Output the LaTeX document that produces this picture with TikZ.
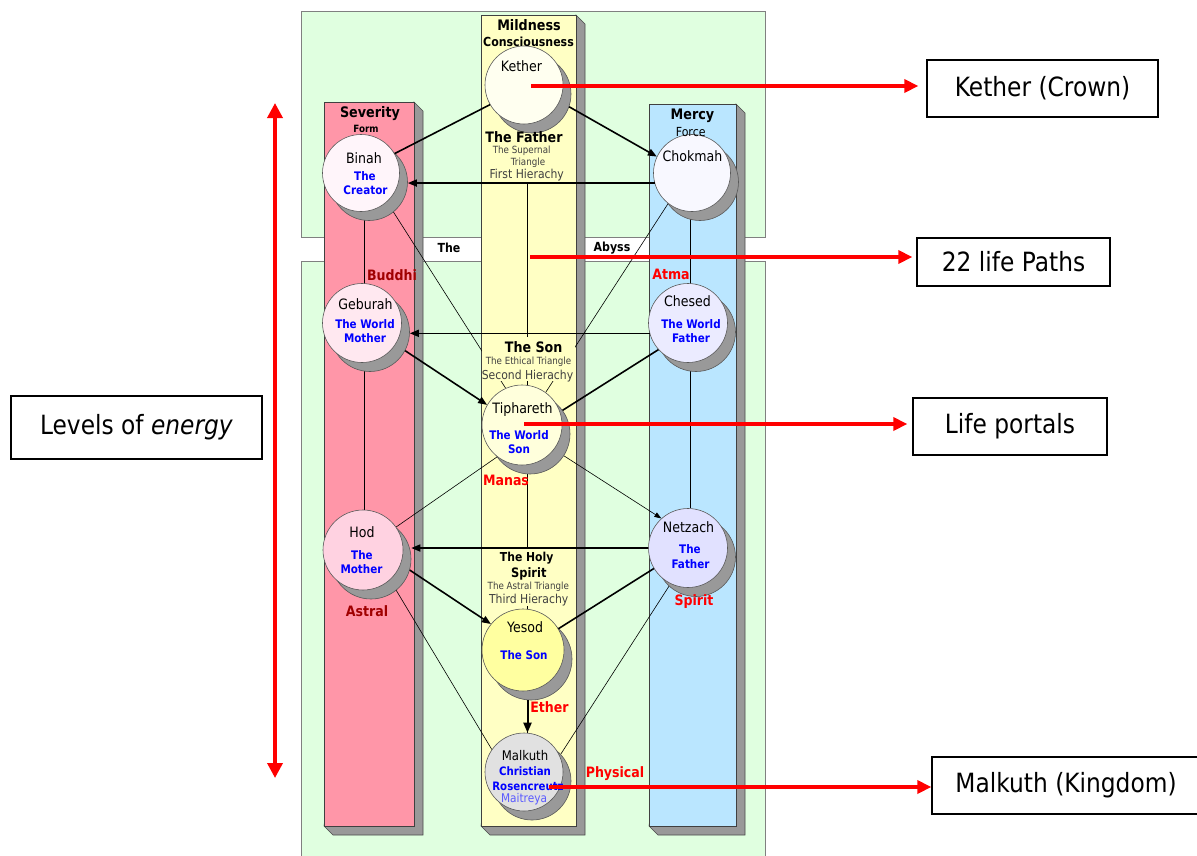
\documentclass[tikz,border=0pt]{standalone}
\usepackage{fontspec}
\setmainfont{DejaVu Sans}[FakeStretch=0.88]
\usetikzlibrary{arrows.meta}
\definecolor{panelG}{RGB}{224,255,224}
\definecolor{pillarR}{RGB}{255,150,168}
\definecolor{pillarY}{RGB}{255,255,196}
\definecolor{pillarB}{RGB}{186,230,255}
\definecolor{shd}{RGB}{153,153,153}
\definecolor{blueT}{RGB}{0,0,255}
\definecolor{blueL}{RGB}{90,90,255}
\definecolor{darkR}{RGB}{160,0,0}
\definecolor{redT}{RGB}{255,0,0}
\definecolor{grayT}{RGB}{64,64,64}
\definecolor{cKether}{RGB}{255,255,240}
\definecolor{cBinah}{RGB}{255,245,250}
\definecolor{cChok}{RGB}{248,248,255}
\definecolor{cGeb}{RGB}{255,232,240}
\definecolor{cChes}{RGB}{235,235,255}
\definecolor{cTiph}{RGB}{255,255,220}
\definecolor{cHod}{RGB}{255,210,225}
\definecolor{cNetz}{RGB}{225,225,255}
\definecolor{cYes}{RGB}{255,255,160}
\definecolor{cMalk}{RGB}{225,225,225}
\newcommand\fsz[1]{\fontsize{#1}{#1}\selectfont}
\newcommand\pillarbox[5]{%
  \filldraw[fill=shd, draw=black!70, line width=0.6pt] (#3,#2) -- (#3+9,#2+9) -- (#3+9,#4+9) -- (#1+9,#4+9) -- (#1,#4) -- cycle;
  \filldraw[fill=#5, draw=black!75, line width=0.8pt] (#1,#2) rectangle (#3,#4);}
\newcommand\mysphere[5]{%
  \node[sphs, minimum size=#4pt] (#1S) at (#2+8,#3+9) {};
  \node[sph, minimum size=#4pt, fill=#5] (#1) at (#2,#3) {};}
\pgfdeclarelayer{back}
\pgfdeclarelayer{lines}
\pgfsetlayers{back,lines,main}
\begin{document}
\begin{tikzpicture}[x=1pt,y=-1pt,
  sph/.style={circle, draw=black!65, line width=0.6pt, inner sep=0pt},
  sphs/.style={sph, fill=shd},
  nm/.style={inner sep=0pt, font=\fsz{14.3}},
  bt/.style={inner sep=0pt, font=\bfseries\fsz{11.8}, text=blueT},
  ttl/.style={inner sep=0pt, font=\bfseries\fsz{14.5}},
  subt/.style={inner sep=0pt, font=\bfseries\fsz{12.5}},
  hd/.style={inner sep=0pt, font=\bfseries\fsz{14.4}},
  sm/.style={inner sep=0pt, font=\fsz{9.9}, text=grayT},
  hier/.style={inner sep=0pt, font=\fsz{12.3}, text=grayT},
  lbl/.style={inner sep=0pt, font=\bfseries\fsz{14.3}, text=redT},
  lbld/.style={lbl, text=darkR},
  abyss/.style={inner sep=0pt, font=\bfseries\fsz{12.5}},
  txtbg/.style={fill=pillarY, inner sep=0pt, minimum width=93pt},
  blk/.style={line width=1.6pt, -{Triangle[length=9pt,width=7pt]}},
  blkn/.style={line width=1.6pt},
  thn/.style={line width=0.6pt},
  redarr/.style={draw=redT, line width=3.5pt, -{Triangle[length=14pt,width=13pt]}},
  lbox/.style={draw, line width=1.3pt, inner sep=0pt, font=\fsz{26.5}, fill=white},
]
\useasboundingbox (0,0) rectangle (1197,855);

\begin{pgfonlayer}{back}
  \fill[white] (0,0) rectangle (1197,855);
  \fill[panelG] (301,11) rectangle (765,237);
  \draw[gray] (301,11) rectangle (765,237);
  \fill[panelG] (301,261) rectangle (765,856);
  \draw[gray] (301,856) -- (301,261) -- (765,261) -- (765,856);
  \pillarbox{324}{102}{414}{826}{pillarR}
  \pillarbox{481}{15}{576}{826}{pillarY}
  \pillarbox{649}{104}{736}{826}{pillarB}
\end{pgfonlayer}

\coordinate (cx) at (527.5,0);
\coordinate (lx) at (364,0);
\coordinate (rx) at (690,0);

% text backgrounds on the centre pillar
\node[txtbg, minimum height=55pt] (fatherBG) at (528.5,154.5) {};
\node[txtbg, minimum height=44pt] (sonBG) at (528.5,359) {};
\node[txtbg, minimum height=57pt] (holyBG) at (528.5,577.5) {};

% spheres
\mysphere{kether}{524}{85}{78}{cKether}
\mysphere{binah}{361}{173}{77}{cBinah}
\mysphere{chokmah}{692}{173}{77}{cChok}
\mysphere{geburah}{362}{323}{79}{cGeb}
\mysphere{chesed}{688}{323}{79}{cChes}
\mysphere{tiphareth}{522}{425}{80}{cTiph}
\mysphere{hod}{363}{550}{80}{cHod}
\mysphere{netzach}{688}{548}{79}{cNetz}
\mysphere{yesod}{523}{650}{82}{cYes}
\mysphere{malkuth}{524}{772}{78}{cMalk}

% thin paths
\begin{pgfonlayer}{lines}
  \draw[thn] (kether.south -| cx) -- (malkuth.north -| cx);
  \draw[thn] (binah.south -| lx) -- (hod.north -| lx);
  \draw[thn] (chokmah.south -| rx) -- (netzach.north -| rx);
  \draw[thn] (binah.312) -- (tiphareth.114);
  \draw[thn] (chokmah.232) -- (tiphareth.54);
  \draw[thn] (tipharethS) -- (hod);
  \draw[thn, -{Triangle[length=7pt,width=5pt]}] (tipharethS) -- (netzach.132);
  \draw[thn] (hod.312) -- (malkuth.145);
  \draw[thn] (netzach.244) -- (malkuthS.43);
\end{pgfonlayer}

% pillar titles
\node[ttl] (tSev) at (370,114) {Severity};
\node[inner sep=0pt, font=\bfseries\fsz{10}] (tForm) at (366,129) {Form};
\node[ttl] (tMild) at (529,25) {Mildness};
\node[subt] (tCons) at (528.5,42) {Consciousness};
\node[ttl] (tMer) at (692.5,116) {Mercy};
\node[inner sep=0pt, font=\fsz{12.5}] (tFor) at (690.7,132) {Force};

% centre pillar texts
\node[hd] (tFather) at (524,137) {The Father};
\node[sm] (tSup) at (521.7,151) {The Supernal};
\node[sm] (tTri) at (528,163) {Triangle};
\node[hier] (tFirst) at (526.7,175) {First Hierachy};
\node[hd] (tSon) at (533.7,347) {The Son};
\node[sm] (tEth) at (528.5,362) {The Ethical Triangle};
\node[hier] (tSecond) at (527.5,376) {Second Hierachy};
\node[inner sep=0pt, font=\bfseries\fsz{12.3}] (tHoly) at (526.7,558) {The Holy};
\node[inner sep=0pt, font=\bfseries\fsz{13}] (tSpirit) at (528.8,574) {Spirit};
\node[sm] (tAstr) at (528.3,587) {The Astral Triangle};
\node[hier] (tThird) at (528.7,600) {Third Hierachy};

% abyss
\node[abyss] (abT) at (449,248) {The};
\node[abyss] (abA) at (612,248) {Abyss};

% sphere texts
\node[nm] (nKether) at (521.5,66) {Kether};
\node[nm] (nBinah) at (364,158) {Binah};
\node[bt] (bBinah1) at (365,176) {The};
\node[bt] (bBinah2) at (365.5,190) {Creator};
\node[nm] (nChok) at (692.5,156) {Chokmah};
\node[nm] (nGeb) at (365.5,304) {Geburah};
\node[bt] (bGeb1) at (365,324) {The World};
\node[bt] (bGeb2) at (365,338) {Mother};
\node[nm] (nChes) at (687.5,301) {Chesed};
\node[bt] (bChes1) at (691,324) {The World};
\node[bt] (bChes2) at (691,338) {Father};
\node[nm] (nTiph) at (522.5,410) {Tiphareth};
\node[bt] (bTiph1) at (519,435) {The World};
\node[bt] (bTiph2) at (519,449) {Son};
\node[nm] (nHod) at (362,532) {Hod};
\node[bt] (bHod1) at (362,555) {The};
\node[bt] (bHod2) at (361.5,569) {Mother};
\node[nm] (nNetz) at (688.5,527) {Netzach};
\node[bt] (bNetz1) at (690,549) {The};
\node[bt] (bNetz2) at (690.5,564) {Father};
\node[nm] (nYes) at (525,627) {Yesod};
\node[bt] (bYes) at (524,655) {The Son};
\node[inner sep=0pt, font=\fsz{13.3}] (nMalk) at (525,756) {Malkuth};
\node[inner sep=0pt, font=\bfseries\fsz{11.6}, text=blueT] (bMalk1) at (525,771) {Christian};
\node[inner sep=0pt, font=\bfseries\fsz{11.6}, text=blueT] (bMalk2) at (528,786) {Rosencreutz};
\node[inner sep=0pt, font=\fsz{12}, text=blueL] (bMalk3) at (524,799) {Maitreya};

% red / dark red labels
\node[lbld] (lBud) at (392,275) {Buddhi};
\node[lbl] (lAtma) at (671,274) {Atma};
\node[lbl] (lMan) at (506,480) {Manas};
\node[lbld] (lAst) at (367,611) {Astral};
\node[lbl] (lSpi) at (694,602) {Spirit};
\node[lbl] (lEth) at (549.5,707) {Ether};
\node[lbl] (lPhy) at (615,774) {Physical};

% thick paths
\draw[blkn] (kether.210) -- (binah.30);
\draw[blk] (ketherS.341) -- (chokmah.155);
\draw[blk] (chokmah.195) -- (chokmah.195 -| binahS.east);
\draw[blk] (chesed.195) -- (chesed.195 -| geburahS.east);
\draw[blk] (geburahS.332) -- (tiphareth.150);
\draw[blkn] (chesed.222) -- (tipharethS.36);
\draw[blk] (netzach.180) -- (netzach.180 -| hodS.east);
\draw[blk] (hodS.344) -- (yesod.141);
\draw[blkn] (netzach.211) -- (yesod.31);
\draw[line width=2pt, -{Triangle[length=10pt,width=8pt]}] (yesodS.south -| cx) -- (malkuth.north -| cx);

% boxes
\node[lbox, minimum width=231pt, minimum height=57pt] (boxK) at (1042.5,88.5) {Kether (Crown)};
\node[lbox, minimum width=193pt, minimum height=48pt] (boxP) at (1013.5,262) {22 life Paths};
\node[lbox, minimum width=194pt, minimum height=57pt] (boxL) at (1010,426.5) {Life portals};
\node[lbox, minimum width=268pt, minimum height=57pt] (boxM) at (1066,785.5) {Malkuth (Kingdom)};
\node[lbox, minimum width=251pt, minimum height=63pt] (boxE) at (136.5,427.5) {Levels of \textit{energy}};

% red arrows
\coordinate (kR) at (531,86);
\coordinate (pR) at (530,257);
\coordinate (lR) at (524,424);
\coordinate (mR) at (549,787);
\coordinate (eTop) at (275,103);
\coordinate (eBot) at (275,778);
\draw[redarr, shorten >=8pt] (kR) -- (kR -| boxK.west);
\draw[redarr, shorten >=4pt] (pR) -- (pR -| boxP.west);
\draw[redarr, shorten >=5pt] (lR) -- (lR -| boxL.west);
\draw[redarr] (mR) -- (mR -| boxM.west);
\draw[draw=redT, line width=3.5pt, {Triangle[length=15pt,width=15pt]}-{Triangle[length=15pt,width=15pt]}] (eTop) -- (eBot);
\end{tikzpicture}
\end{document}
